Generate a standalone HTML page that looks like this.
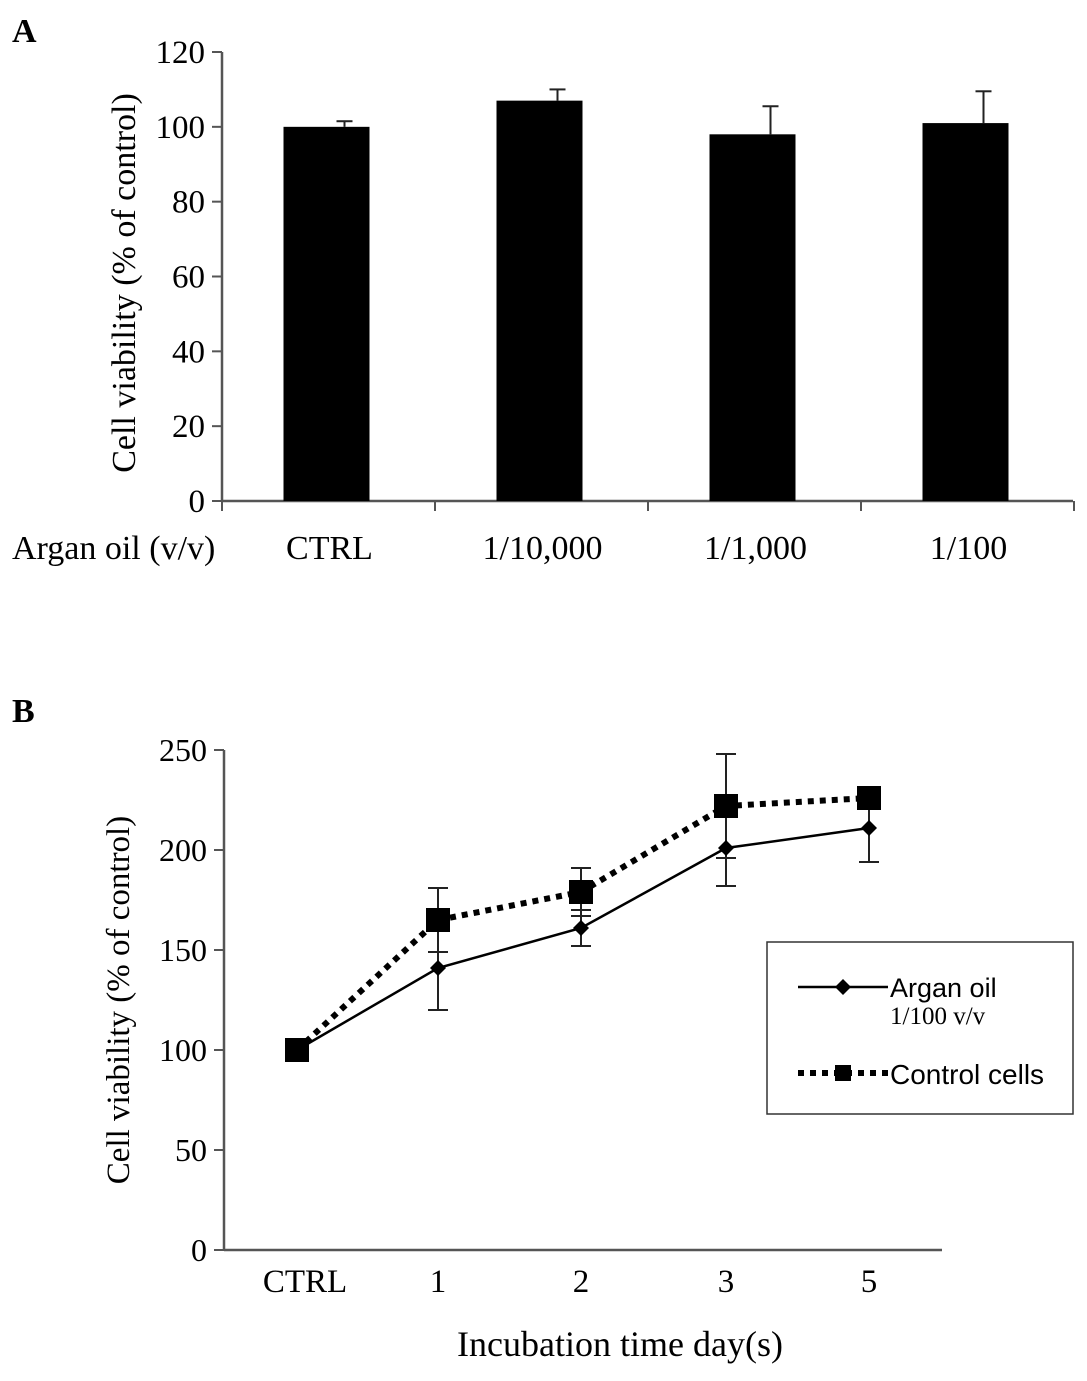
<!DOCTYPE html>
<html><head><meta charset="utf-8"><style>
body{margin:0;background:#fff;}
svg text{font-family:"Liberation Serif",serif;fill:#000;}
</style></head><body>
<svg width="1087" height="1376" xmlns="http://www.w3.org/2000/svg">
<g id="chartA"></g>
<g id="chartB"></g>
</svg>
<script>
const catsA=["CTRL","1/10,000","1/1,000","1/100"];
const valsA=[100,107,98,101];
const errA=[1.5,3,7.5,8.5];
const ticksA=[0,20,40,60,80,100,120];
const catsB=["CTRL","1","2","3","5"];
const arganB=[100,141,161,201,211];
const arganErr=[3,21,9,19,17];
const ctrlB=[100,165,179,222,226];
const ctrlErr=[4,16,12,26,5];
const ticksB=[0,50,100,150,200,250];
const NS="http://www.w3.org/2000/svg";
function mk(p,t,a,txt){const e=document.createElementNS(NS,t);for(const k in a)e.setAttribute(k,a[k]);if(txt!==undefined)e.textContent=txt;p.appendChild(e);return e;}
// Chart A
const A=document.getElementById('chartA');
const yA=v=>501-v*(449/120);
const xA0=222,xAw=213;
const xA=i=>xA0+xAw*(i+0.5);
mk(A,'text',{x:12,y:42,'font-size':34,'font-weight':'bold',},'A');
mk(A,'line',{x1:xA0,y1:52,x2:xA0,y2:501,stroke:'#555','stroke-width':2.5,});
mk(A,'line',{x1:xA0,y1:501,x2:1073,y2:501,stroke:'#555','stroke-width':2.5,});
ticksA.forEach(t=>{mk(A,'line',{x1:212,y1:yA(t),x2:xA0,y2:yA(t),stroke:'#555','stroke-width':2,});
mk(A,'text',{x:205,y:yA(t)+11,'font-size':33,'text-anchor':'end',},t);});
for(let i=0;i<=4;i++)mk(A,'line',{x1:xA0+xAw*i,y1:501,x2:xA0+xAw*i,y2:511,stroke:'#555','stroke-width':2,});
catsA.forEach((c,i)=>{const cx=xA(i)-2;
mk(A,'line',{x1:cx+18,y1:yA(valsA[i]),x2:cx+18,y2:yA(valsA[i]+errA[i]),stroke:'#222','stroke-width':2,});
mk(A,'line',{x1:cx+10,y1:yA(valsA[i]+errA[i]),x2:cx+26,y2:yA(valsA[i]+errA[i]),stroke:'#222','stroke-width':2,});
mk(A,'rect',{x:cx-43,y:yA(valsA[i]),width:86,height:501-yA(valsA[i]),fill:'#000',});
mk(A,'text',{x:cx+3,y:559,'font-size':34,'text-anchor':'middle',},c);});
mk(A,'text',{x:12,y:559,'font-size':34,},'Argan oil (v/v)');
mk(A,'text',{x:0,y:0,'font-size':34,'text-anchor':'middle',transform:'translate(135,283) rotate(-90)',},'Cell viability (% of control)');
// Chart B
const B=document.getElementById('chartB');
const yB=v=>1250-v*2;
const xsB=[297,438,581,726,869];
const xB=i=>xsB[i];
mk(B,'text',{x:12,y:722,'font-size':34,'font-weight':'bold',},'B');
mk(B,'line',{x1:224,y1:750,x2:224,y2:1250,stroke:'#555','stroke-width':2.5,});
mk(B,'line',{x1:224,y1:1250,x2:942,y2:1250,stroke:'#555','stroke-width':2.5,});
ticksB.forEach(t=>{mk(B,'line',{x1:214,y1:yB(t),x2:224,y2:yB(t),stroke:'#555','stroke-width':2,});
mk(B,'text',{x:207,y:yB(t)+11,'font-size':32,'text-anchor':'end',},t);});
catsB.forEach((c,i)=>mk(B,'text',{x:xB(i)+(i==0?8:0),y:1292,'font-size':33,'text-anchor':'middle',},c));
mk(B,'text',{x:620,y:1356,'font-size':36,'text-anchor':'middle',},'Incubation time day(s)');
mk(B,'text',{x:0,y:0,'font-size':33,'text-anchor':'middle',transform:'translate(129,1000) rotate(-90)',},'Cell viability (% of control)');
function errs(vals,err,name){vals.forEach((v,i)=>{const x=xB(i);
mk(B,'line',{x1:x,y1:yB(v-err[i]),x2:x,y2:yB(v+err[i]),stroke:'#222','stroke-width':2,});
[v-err[i],v+err[i]].forEach(e=>mk(B,'line',{x1:x-10,y1:yB(e),x2:x+10,y2:yB(e),stroke:'#222','stroke-width':2,}));});}
errs(arganB,arganErr,'argan');errs(ctrlB,ctrlErr,'control');
mk(B,'polyline',{points:arganB.map((v,i)=>xB(i)+','+yB(v)).join(' '),fill:'none',stroke:'#000','stroke-width':2.5,});
mk(B,'polyline',{points:ctrlB.map((v,i)=>xB(i)+','+yB(v)).join(' '),fill:'none',stroke:'#000','stroke-width':6,'stroke-dasharray':'6 6',});
arganB.forEach((v,i)=>mk(B,'polygon',{points:`${xB(i)},${yB(v)-8} ${xB(i)+8},${yB(v)} ${xB(i)},${yB(v)+8} ${xB(i)-8},${yB(v)}`,fill:'#000',}));
ctrlB.forEach((v,i)=>mk(B,'rect',{x:xB(i)-12,y:yB(v)-12,width:24,height:24,fill:'#000',}));
const L=mk(B,'g',{});
mk(L,'rect',{x:767,y:942,width:306,height:172,fill:'#fff',stroke:'#333','stroke-width':1.5,});
mk(L,'line',{x1:798,y1:987,x2:888,y2:987,stroke:'#000','stroke-width':2.5,});
mk(L,'polygon',{points:'843,979 851,987 843,995 835,987',fill:'#000',});
mk(L,'text',{x:890,y:997,'font-size':27,style:'font-family:"Liberation Sans",sans-serif',},'Argan oil');
mk(L,'text',{x:890,y:1024,'font-size':25,},'1/100 v/v');
mk(L,'line',{x1:798,y1:1073,x2:888,y2:1073,stroke:'#000','stroke-width':6,'stroke-dasharray':'6 6',});
mk(L,'rect',{x:835,y:1065,width:16,height:16,fill:'#000',});
mk(L,'text',{x:890,y:1084,'font-size':28,style:'font-family:"Liberation Sans",sans-serif',},'Control cells');
</script>
</body></html>
